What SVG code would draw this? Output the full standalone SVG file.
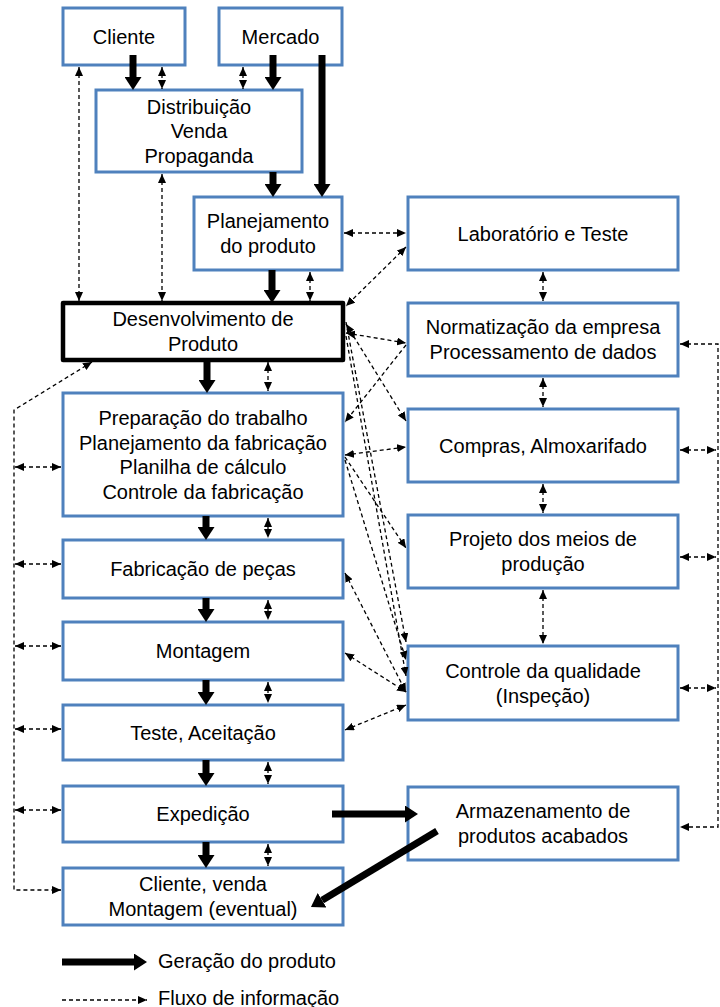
<svg xmlns="http://www.w3.org/2000/svg" width="720" height="1007" viewBox="0 0 720 1007">
  <style>
    .box { fill: #ffffff; stroke: #4f81bd; stroke-width: 3; }
    .main { fill: #ffffff; stroke: #000000; stroke-width: 4.5; stroke-linejoin: round; }
    text { font-family: "Liberation Sans", Arial, sans-serif; font-size: 20px; fill: #000000; text-anchor: middle; }
    .legend { text-anchor: start; }
    .flow { stroke: #000000; stroke-width: 7; fill: none; marker-end: url(#thick); }
    .info { stroke: #000000; stroke-width: 1.3; stroke-dasharray: 4 3; fill: none; marker-end: url(#dh); }
    .both { marker-start: url(#dh); }
  </style>
  <defs>
    <marker id="thick" markerUnits="userSpaceOnUse" markerWidth="13" markerHeight="17" refX="0" refY="8.5" orient="auto">
      <path d="M0,0 L13,8.5 L0,17 z" fill="#000000"/>
    </marker>
    <marker id="dh" markerUnits="userSpaceOnUse" markerWidth="9" markerHeight="8" refX="9" refY="4" orient="auto-start-reverse">
      <path d="M0,0 L9,4 L0,8 z" fill="#000000"/>
    </marker>
  </defs>

  <rect width="720" height="1007" fill="#ffffff"/>

  <!-- left column: product generation chain -->
  <g id="cliente">
    <rect class="box" x="63" y="8" width="122" height="57"/>
    <text x="124" y="43.5">Cliente</text>
  </g>
  <g id="mercado">
    <rect class="box" x="219" y="8" width="123" height="57"/>
    <text x="280.5" y="43.5">Mercado</text>
  </g>
  <g id="distribuicao">
    <rect class="box" x="96" y="90" width="206" height="82"/>
    <text x="199" y="113.5">Distribuição</text>
    <text x="199" y="138">Venda</text>
    <text x="199" y="162.5">Propaganda</text>
  </g>
  <g id="planejamento">
    <rect class="box" x="194" y="197" width="148" height="73"/>
    <text x="268" y="228">Planejamento</text>
    <text x="268" y="252.5">do produto</text>
  </g>
  <g id="desenvolvimento">
    <rect class="main" x="63" y="303" width="280" height="57"/>
    <text x="203" y="326">Desenvolvimento de</text>
    <text x="203" y="350.5">Produto</text>
  </g>
  <g id="preparacao">
    <rect class="box" x="63" y="393" width="280" height="123"/>
    <text x="203" y="425">Preparação do trabalho</text>
    <text x="203" y="449.5">Planejamento da fabricação</text>
    <text x="203" y="474">Planilha de cálculo</text>
    <text x="203" y="498.5">Controle da fabricação</text>
  </g>
  <g id="fabricacao">
    <rect class="box" x="63" y="540" width="280" height="58"/>
    <text x="203" y="576">Fabricação de peças</text>
  </g>
  <g id="montagem">
    <rect class="box" x="63" y="622" width="280" height="58"/>
    <text x="203" y="658">Montagem</text>
  </g>
  <g id="teste">
    <rect class="box" x="63" y="705" width="280" height="55"/>
    <text x="203" y="739.5">Teste, Aceitação</text>
  </g>
  <g id="expedicao">
    <rect class="box" x="63" y="786" width="280" height="56"/>
    <text x="203" y="821">Expedição</text>
  </g>
  <g id="cliente-venda">
    <rect class="box" x="63" y="868" width="280" height="57"/>
    <text x="203" y="891">Cliente, venda</text>
    <text x="203" y="915.5">Montagem (eventual)</text>
  </g>

  <!-- right column: supporting departments -->
  <g id="laboratorio">
    <rect class="box" x="408" y="197" width="270" height="73"/>
    <text x="543" y="240.5">Laboratório e Teste</text>
  </g>
  <g id="normatizacao">
    <rect class="box" x="408" y="303" width="270" height="73"/>
    <text x="543" y="334">Normatização da empresa</text>
    <text x="543" y="358.5">Processamento de dados</text>
  </g>
  <g id="compras">
    <rect class="box" x="408" y="409" width="270" height="73"/>
    <text x="543" y="452.5">Compras, Almoxarifado</text>
  </g>
  <g id="projeto">
    <rect class="box" x="408" y="515" width="270" height="73"/>
    <text x="543" y="546">Projeto dos meios de</text>
    <text x="543" y="570.5">produção</text>
  </g>
  <g id="controle">
    <rect class="box" x="408" y="646" width="270" height="74"/>
    <text x="543" y="678">Controle da qualidade</text>
    <text x="543" y="702.5">(Inspeção)</text>
  </g>
  <g id="armazenamento">
    <rect class="box" x="408" y="787" width="270" height="73"/>
    <text x="543" y="818">Armazenamento de</text>
    <text x="543" y="842.5">produtos acabados</text>
  </g>

  <g id="connectors">
    <!-- product flow -->
    <line class="flow" x1="133" y1="55" x2="133" y2="77"/>
    <line class="flow" x1="273" y1="55" x2="273" y2="77"/>
    <line class="flow" x1="322" y1="55" x2="322" y2="184"/>
    <line class="flow" x1="273" y1="172" x2="273" y2="184"/>
    <line class="flow" x1="272" y1="270" x2="272" y2="290"/>
    <line class="flow" x1="207" y1="360" x2="207" y2="380"/>
    <line class="flow" x1="206" y1="516" x2="206" y2="527"/>
    <line class="flow" x1="206" y1="598" x2="206" y2="609"/>
    <line class="flow" x1="206" y1="680" x2="206" y2="692"/>
    <line class="flow" x1="206" y1="760" x2="206" y2="773"/>
    <line class="flow" x1="206" y1="842" x2="206" y2="855"/>
    <line class="flow" x1="332" y1="814" x2="405" y2="814"/>
    <line class="flow" x1="437" y1="831" x2="322.1" y2="900.3"/>

    <!-- information flow, top -->
    <line class="info both" x1="162" y1="67" x2="162" y2="89"/>
    <line class="info both" x1="243" y1="67" x2="243" y2="89"/>
    <line class="info both" x1="79" y1="67" x2="79" y2="301"/>
    <line class="info both" x1="162" y1="174" x2="162" y2="301"/>
    <line class="info both" x1="310" y1="272" x2="310" y2="301"/>
    <line class="info both" x1="344" y1="233" x2="406" y2="233"/>

    <!-- information flow between the two columns -->
    <line class="info both" x1="406" y1="247" x2="346" y2="306"/>
    <line class="info both" x1="346" y1="333" x2="406" y2="343"/>
    <line class="info both" x1="346" y1="324" x2="406" y2="421"/>
    <line class="info" x1="346" y1="322" x2="406" y2="642"/>
    <line class="info" x1="346" y1="336" x2="406" y2="676"/>
    <line class="info" x1="406" y1="345" x2="345" y2="422"/>
    <line class="info both" x1="345" y1="455" x2="406" y2="447"/>
    <line class="info" x1="345" y1="457" x2="406" y2="548"/>
    <line class="info" x1="345" y1="460" x2="406" y2="660"/>
    <line class="info both" x1="345" y1="573" x2="406" y2="692"/>
    <line class="info both" x1="345" y1="653" x2="406" y2="692"/>
    <line class="info both" x1="345" y1="730" x2="406" y2="705"/>

    <!-- information flow along the left column -->
    <line class="info both" x1="268" y1="362" x2="268" y2="391"/>
    <line class="info both" x1="268" y1="518" x2="268" y2="538"/>
    <line class="info both" x1="268" y1="600" x2="268" y2="620"/>
    <line class="info both" x1="268" y1="682" x2="268" y2="703"/>
    <line class="info both" x1="268" y1="762" x2="268" y2="784"/>
    <line class="info both" x1="268" y1="844" x2="268" y2="866"/>

    <!-- information flow along the right column -->
    <line class="info both" x1="543" y1="272" x2="543" y2="301"/>
    <line class="info both" x1="543" y1="378" x2="543" y2="407"/>
    <line class="info both" x1="543" y1="484" x2="543" y2="513"/>
    <line class="info both" x1="543" y1="590" x2="543" y2="644"/>

    <!-- left return bus -->
    <path class="info both" d="M92,362 L14,410 L14,890 L61,890"/>
    <line class="info both" x1="15" y1="467" x2="61" y2="467"/>
    <line class="info both" x1="15" y1="564" x2="61" y2="564"/>
    <line class="info both" x1="15" y1="646" x2="61" y2="646"/>
    <line class="info both" x1="15" y1="729" x2="61" y2="729"/>
    <line class="info both" x1="15" y1="810" x2="61" y2="810"/>

    <!-- right return bus -->
    <path class="info both" d="M680,344 L718,344 L718,827 L680,827"/>
    <line class="info both" x1="680" y1="450" x2="716" y2="450"/>
    <line class="info both" x1="680" y1="557" x2="716" y2="557"/>
    <line class="info both" x1="680" y1="688" x2="716" y2="688"/>
  </g>

  <!-- legend -->
  <g id="legend">
    <line class="flow" x1="62" y1="962" x2="134" y2="962"/>
    <text class="legend" x="158" y="968">Geração do produto</text>
    <line class="info" x1="62" y1="1000" x2="147" y2="1000"/>
    <text class="legend" x="158" y="1005">Fluxo de informação</text>
  </g>
</svg>
